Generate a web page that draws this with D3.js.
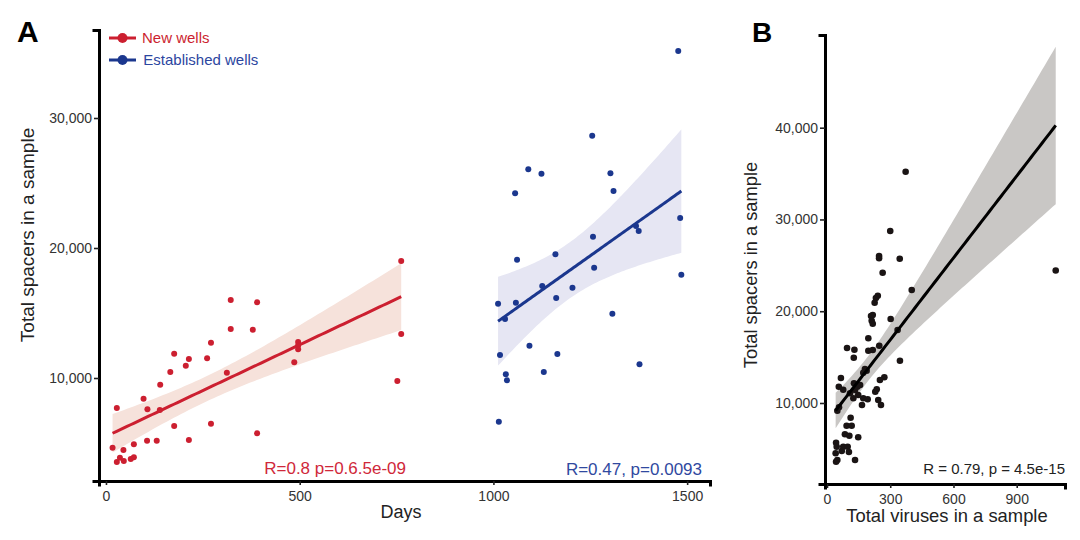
<!DOCTYPE html>
<html><head><meta charset="utf-8">
<script src="https://cdn.jsdelivr.net/npm/d3@7"></script>
<style>
body{margin:0;background:#fff;}
svg{font-family:Arial,"Liberation Sans",Helvetica,sans-serif;}
</style></head>
<body><svg id="c" width="1080" height="540"></svg>
<script>
// ---- Data ----
const newDays = [17,28,28,36,45,46,64,72,72,97,107,106,131,140,139,166,176,176,206,214,214,261,271,271,312,322,322,379,390,390,486,496,496,496,752,762,762];
const newSpacers = [4638,7692,3538,3869,4462,3615,3769,3900,4900,8408,7592,5177,5177,9485,7538,10462,11869,6308,10946,11462,5231,11515,12715,6485,10408,16000,13769,13715,15823,5746,11208,12769,12500,12208,9769,13385,19000];
const estDays = [1477,1255,1090,1124,1056,1302,1310,1482,1368,1375,1257,1061,1160,1260,1126,1204,1162,1012,1058,1030,1485,1307,1093,1017,1165,1130,1377,1032,1035,1014];
const estSpacers = [35154,28638,26054,25715,24208,25746,24385,22308,21692,21308,20869,19100,19515,18485,17077,16946,16154,15715,15792,14538,17946,14946,12485,11769,11846,10462,11054,10285,9823,6638];
const virusTotal = [373,300,247,247,345,1085,264,402,241,232,226,209,217,212,217,302,335,196,248,196,217,95,130,127,346,180,188,172,272,251,66,56,77,236,229,128,144,157,109,133,125,148,172,193,243,256,166,57,49,112,93,117,85,106,148,43,46,77,98,70,104,41,133,43,49];
const virusSpacers = [35205,28743,26019,25768,25724,24439,24199,22314,21692,21442,20930,19480,19590,18968,18641,19153,17955,17050,16244,15699,15775,15993,15808,14936,14609,13705,13520,13302,12801,12506,12724,11776,11449,11493,11231,12147,11776,11961,11057,11417,10512,10872,10512,10403,10327,9782,9782,9531,9161,8398,7526,7526,6589,6437,6262,5674,5238,5238,5238,4769,4660,4519,3789,3603,3789];
const xTicksA = [0,500,1000,1500];
const yTicksA = [10000,20000,30000];
const xTicksB = [0,300,600,900];
const yTicksB = [10000,20000,30000,40000];
const legendLabels = ["New wells","Established wells"];
const statLabels = ["R=0.8 p=0.6.5e-09","R=0.47, p=0.0093","R = 0.79, p = 4.5e-15"];

const RED="#cc1f30", BLUE="#1b378e", BLACK="#1a1414";
const svg = d3.select("#c");
const fmt = d3.format(",");

function tq(df){ const z=1.959964; return z+(z**3+z)/(4*df)+(5*z**5+16*z**3+3*z)/(96*df*df)+(3*z**7+19*z**5+17*z**3-15*z)/(384*df**3); }
function fit(xs, ys){
  const n=xs.length, mx=d3.mean(xs), my=d3.mean(ys);
  let sxx=0,sxy=0; xs.forEach((x,i)=>{sxx+=(x-mx)**2; sxy+=(x-mx)*(ys[i]-my);});
  const b=sxy/sxx, a=my-b*mx;
  let sse=0; xs.forEach((x,i)=>{sse+=(ys[i]-a-b*x)**2;});
  const s=Math.sqrt(sse/(n-2)), t=tq(n-2);
  const x0=d3.min(xs), x1=d3.max(xs);
  const pts=d3.range(81).map(k=>{const x=x0+(x1-x0)*k/80; const yh=a+b*x; const se=s*Math.sqrt(1/n+(x-mx)**2/sxx); return {x, y:yh, lo:yh-t*se, hi:yh+t*se};});
  return pts;
}

function panel(cfg){
  const g=svg.append("g");
  // band + line per series
  cfg.series.forEach(se=>{
    const f=fit(se.x, se.y);
    g.append("path").attr("d", d3.area().x(d=>cfg.xs(d.x)).y0(d=>cfg.ys(d.lo)).y1(d=>cfg.ys(d.hi))(f)).attr("fill", se.band);
  });
  cfg.series.forEach(se=>{
    g.selectAll(null).data(se.x.map((x,i)=>[x,se.y[i]])).join("circle")
      .attr("cx",d=>cfg.xs(d[0])).attr("cy",d=>cfg.ys(d[1])).attr("r",se.r).attr("fill",se.color);
  });
  cfg.series.forEach(se=>{
    const f=fit(se.x, se.y);
    g.append("path").attr("d", d3.line().x(d=>cfg.xs(d.x)).y(d=>cfg.ys(d.y))(f)).attr("fill","none").attr("stroke",se.line).attr("stroke-width",3);
  });
  // axes
  const ax = g.append("g").attr("transform",`translate(0,${cfg.ys.range()[0]})`)
    .call(d3.axisBottom(cfg.xs).tickValues(cfg.xt).tickSizeOuter(0).tickSize(4).tickPadding(3).tickFormat(d=>d));
  const ay = g.append("g").attr("transform",`translate(${cfg.xs.range()[0]},0)`)
    .call(d3.axisLeft(cfg.ys).tickValues(cfg.yt).tickSizeOuter(0).tickSize(5).tickPadding(2).tickFormat(fmt));
  [ax,ay].forEach(a=>{
    a.select(".domain").attr("stroke","#000").attr("stroke-width",3).attr("stroke-linecap","square");
    a.selectAll(".tick line").attr("stroke","#222").attr("stroke-width",1.6);
    a.selectAll(".tick text").attr("fill","#333").style("font-size","14px").style("font-family","Arial,'Liberation Sans',sans-serif");
  });
  ax.selectAll(".tick text").attr("dy","0.9em");
  return g;
}

// Panel A
const xA=d3.scaleLinear().domain([-18,1559]).range([99,710]);
const yA=d3.scaleLinear().domain([2077,36770]).range([481,30]);
panel({xs:xA, ys:yA, xt:xTicksA, yt:yTicksA, series:[
  {x:newDays, y:newSpacers, color:RED, line:RED, band:"#f6e2db", r:3},
  {x:estDays, y:estSpacers, color:BLUE, line:BLUE, band:"#e6e6f3", r:3}
]});
// Panel B
const xB=d3.scaleLinear().domain([-9.5,1129]).range([825,1065]);
const yB=d3.scaleLinear().domain([1173,50100]).range([484,35]);
panel({xs:xB, ys:yB, xt:xTicksB, yt:yTicksB, series:[
  {x:virusTotal, y:virusSpacers, color:BLACK, line:"#000", band:"#c9c7c5", r:3.3}
]});

// Titles
svg.append("text").attr("x",17).attr("y",42).text("A").style("font-size","30px").style("font-weight","bold");
svg.append("text").attr("x",752).attr("y",42).text("B").style("font-size","28px").style("font-weight","bold");
svg.append("text").attr("transform","translate(34,235) rotate(-90)").attr("text-anchor","middle").attr("fill","#222").style("font-size","19px").text("Total spacers in a sample");
svg.append("text").attr("transform","translate(757,265) rotate(-90)").attr("text-anchor","middle").attr("fill","#222").style("font-size","18.3px").text("Total spacers in a sample");
svg.append("text").attr("x",401).attr("y",518).attr("text-anchor","middle").attr("fill","#222").style("font-size","18px").text("Days");
svg.append("text").attr("x",947).attr("y",521.5).attr("text-anchor","middle").attr("fill","#222").style("font-size","18.4px").text("Total viruses in a sample");

// Legend
const leg=[{c:RED, t:"#cc1f30", y:38},{c:BLUE, t:"#2c46a0", y:60}];
leg.forEach((l,i)=>{
  svg.append("line").attr("x1",109).attr("x2",136).attr("y1",l.y).attr("y2",l.y).attr("stroke",l.c).attr("stroke-width",3);
  svg.append("circle").attr("cx",122.5).attr("cy",l.y).attr("r",5).attr("fill",l.c);
  svg.append("text").attr("x",142+i*1.3).attr("y",l.y+5.4).attr("fill",l.t).style("font-size","15px").text(legendLabels[i]);
});

// Stats
svg.append("text").attr("x",406).attr("y",474).attr("text-anchor","end").attr("fill","#d0283a").style("font-size","17px").text(statLabels[0]);
svg.append("text").attr("x",702).attr("y",475).attr("text-anchor","end").attr("fill","#3049a0").style("font-size","17px").text(statLabels[1]);
svg.append("text").attr("x",1065).attr("y",473.5).attr("text-anchor","end").attr("fill","#222").style("font-size","15px").text(statLabels[2]);
</script></body></html>
